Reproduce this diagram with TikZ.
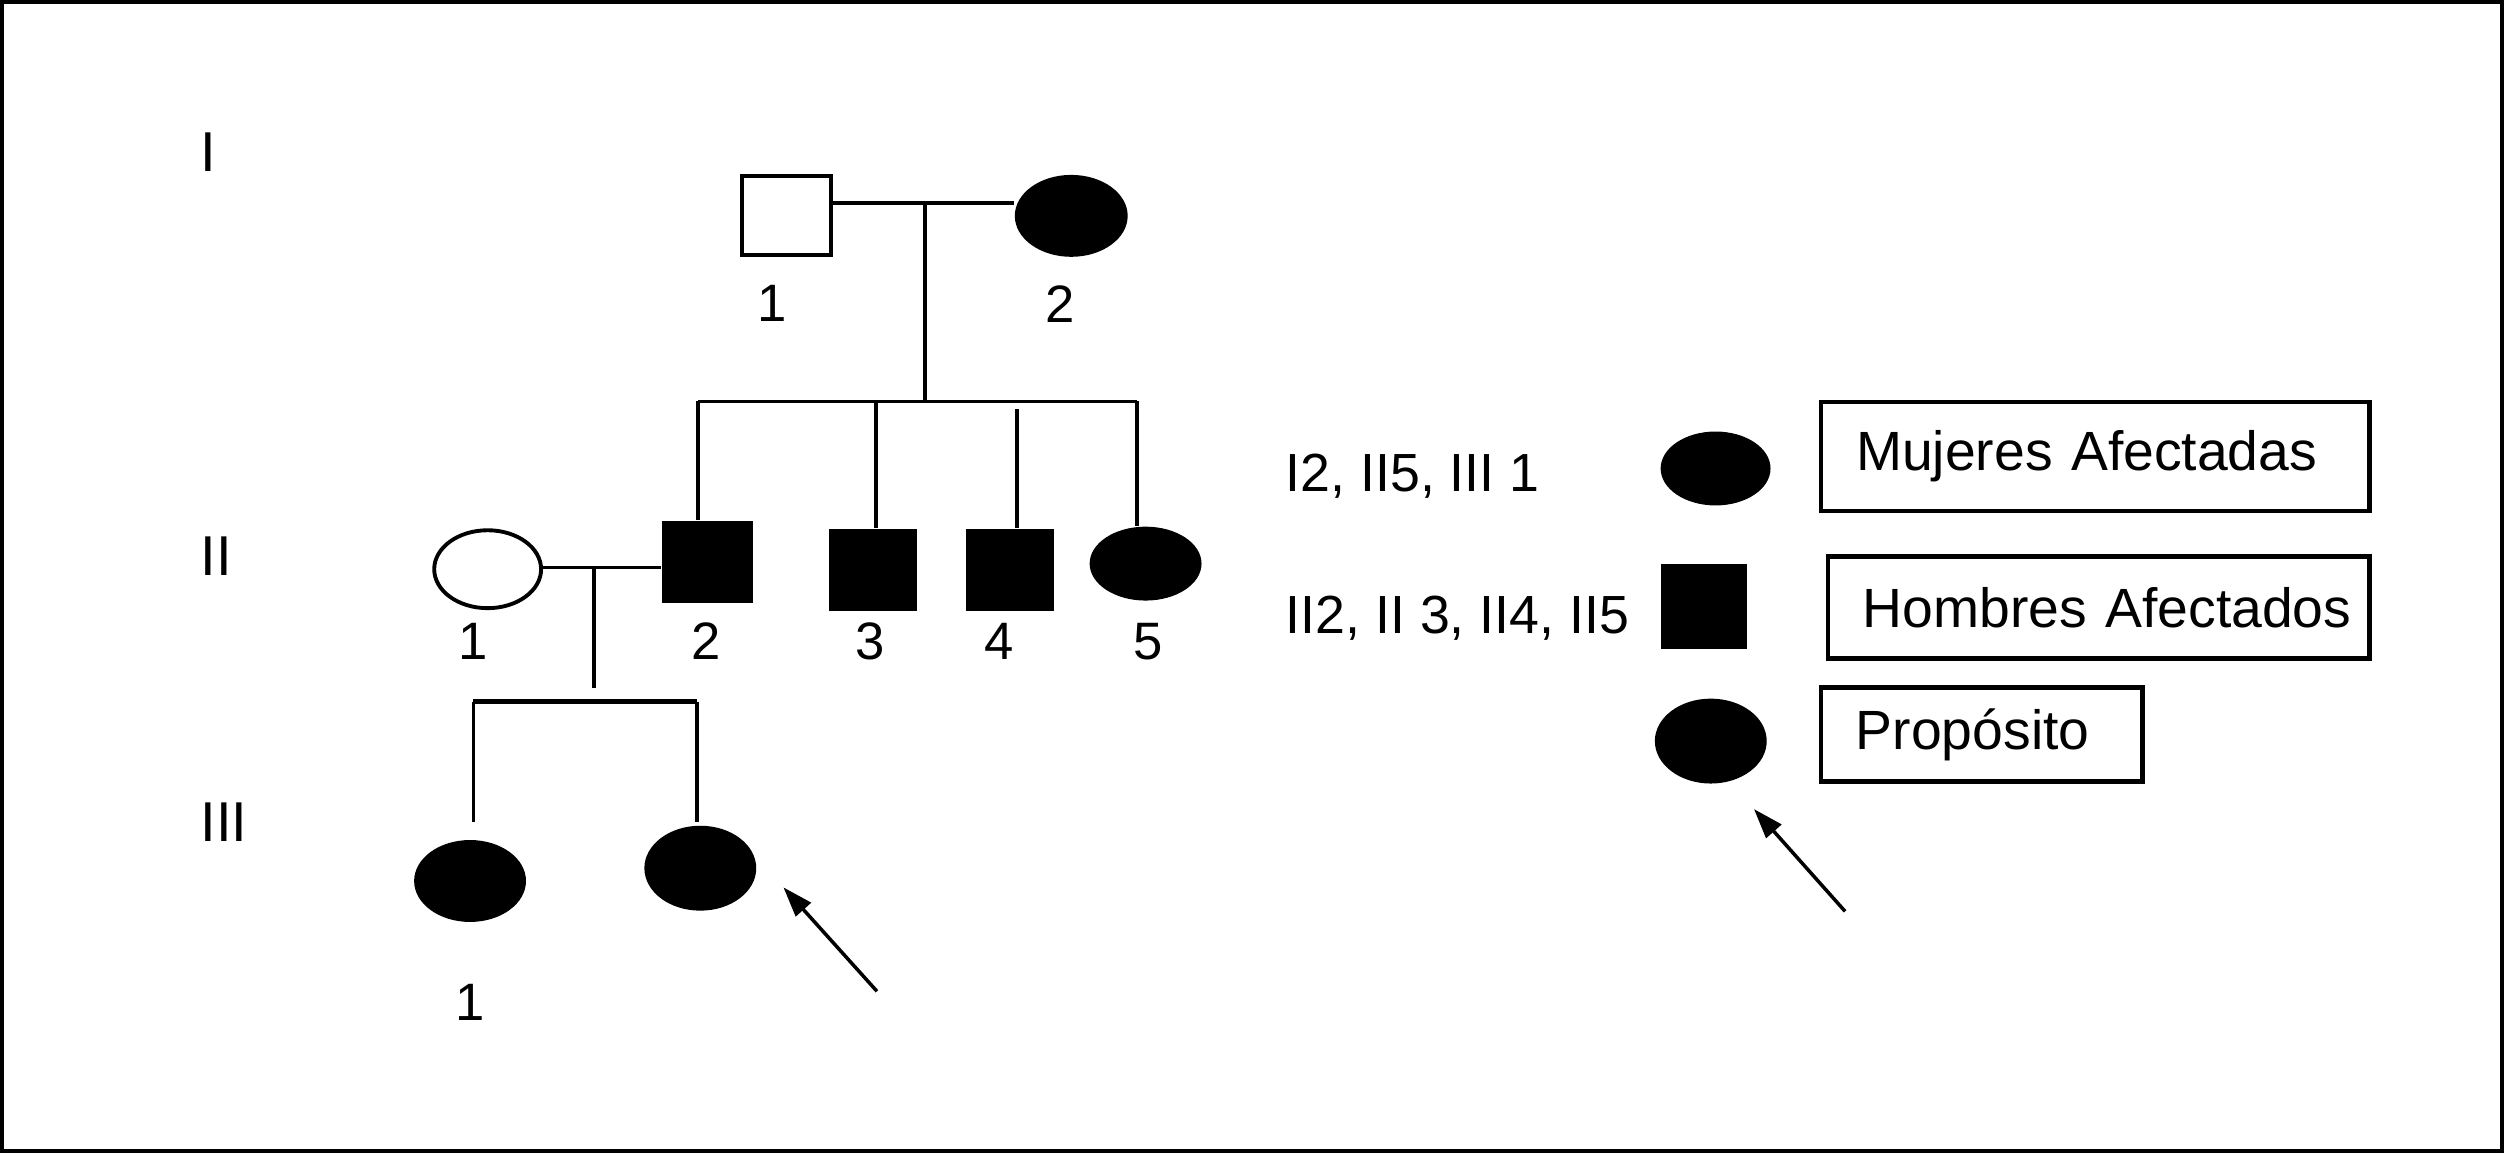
\documentclass[tikz,border=0pt]{standalone}
\usepackage{fontspec}
\setmainfont{Liberation Sans}
\usetikzlibrary{shapes.geometric,arrows.meta}
\tikzset{
  ml/.style={rectangle, draw=black, fill=white, line width=1.1pt, minimum width=0.89cm, minimum height=0.79cm, inner sep=0pt},
  aml/.style={rectangle, fill=black, minimum width=0.88cm, minimum height=0.82cm, inner sep=0pt},
  fm/.style={ellipse, draw=black, fill=white, line width=1.1pt, minimum width=1.07cm, minimum height=0.78cm, inner sep=0pt},
  afm/.style={ellipse, fill=black, minimum width=1.12cm, minimum height=0.82cm, inner sep=0pt},
  ln/.style={draw=black, line width=1pt},
  lbl/.style={font=\fontsize{15}{17}\selectfont, inner sep=0pt},
  gen/.style={font=\fontsize{16}{19}\selectfont, inner sep=0pt, anchor=west},
  keytxt/.style={font=\fontsize{15.3}{18}\selectfont, inner sep=0pt},
  keybox/.style={draw=black, line width=1.3pt, font=\fontsize{15.75}{18}\selectfont, align=left, inner xsep=0.35cm, inner ysep=0pt},
  arr/.style={draw=black, line width=1pt, -{Triangle[length=3mm,width=2mm]}}
}

\begin{document}
\begin{tikzpicture}[x=0.016cm, y=-0.016cm]
  \useasboundingbox (0,0) rectangle (1568,721);
  \draw[line width=1.14pt] (1.25,1.25) rectangle (1564.8,719.8);

  % generations
  \node[gen] (gI) at (125,95) {I};
  \node[gen] (gII) at (125,348) {II};
  \node[gen] (gIII) at (125,514) {III};

  % generation I
  \node[ml] (I1) at (492,135) {};
  \node[afm, minimum width=1.13cm] (I2) at (670,135) {};
  \node[lbl] (nI1) at (483,190) {1};
  \node[lbl] (nI2) at (663,190) {2};
  \coordinate (m1) at (578.5,127);
  \coordinate (s1) at (578.5,251);
  \draw[ln] (I1.east |- m1) -- (m1) -- (I2.west |- m1);
  \draw[ln] (m1) -- (s1);

  % generation II
  \node[fm] (II1) at (305,356) {};
  \node[aml, minimum width=0.91cm] (II2) at (442.5,351.5) {};
  \node[aml] (II3) at (546,356.5) {};
  \node[aml] (II4) at (631.5,356.5) {};
  \node[afm, minimum height=0.74cm] (II5) at (716.5,352.5) {};
  \node[lbl] (nII1) at (296,401) {1};
  \node[lbl] (nII2) at (441.5,401) {2};
  \node[lbl] (nII3) at (544,401) {3};
  \node[lbl] (nII4) at (625,401) {4};
  \node[lbl] (nII5) at (718,401) {5};
  \coordinate (d2) at (436.5,251);
  \coordinate (d3) at (548,251);
  \coordinate (d4) at (636,256);
  \coordinate (d5) at (711,251);
  \draw[ln] (d2) -- (s1) -- (d5);
  \draw[ln] (d2) -- (d2 |- II2.north);
  \draw[ln] (d3) -- (d3 |- II3.north);
  \draw[ln] (d4) -- (d4 |- II4.north);
  \draw[ln] (d5) -- (d5 |- II5.north);
  \coordinate (m2) at (371.6,355);
  \coordinate (e2) at (371.6,430);
  \draw[ln] (II1.east |- m2) -- (II2.west |- m2);
  \draw[ln] (m2) -- (e2);

  % generation III
  \node[afm] (III1) at (294,551) {};
  \node[afm, minimum height=0.85cm] (III2) at (438,543) {};
  \node[lbl] (nIII1) at (294,627) {1};
  \coordinate (t1) at (296,439);
  \coordinate (t2) at (436,439);
  \coordinate (b1) at (296,514);
  \coordinate (b2) at (436,514);
  \draw[ln, line width=1.4pt] (t1) -- (t2);
  \draw[ln] (t1) -- (b1);
  \draw[ln] (t2) -- (b2);
  \coordinate (a1) at (548.5,620);
  \coordinate (a2) at (490,555);
  \draw[arr] (a1) -- (a2);

  % legend
  \node[keytxt] (k1) at (883.5,298) {I2, II5, III 1};
  \node[keytxt] (k2) at (911.5,386.5) {II2, II 3, II4, II5};
  \node[afm, minimum width=1.1cm, minimum height=0.74cm] (kf) at (1073,293) {};
  \node[aml, minimum width=0.86cm, minimum height=0.85cm] (km) at (1066,379.5) {};
  \node[afm, minimum width=1.12cm, minimum height=0.85cm] (kp) at (1070,463.5) {};
  \node[keybox, text width=4.79cm, minimum height=1.09cm] (bf) at (1310.5,285.5) {\mbox{Mujeres Afectadas}};
  \node[keybox, text width=4.72cm, minimum height=1.02cm] (bm) at (1312.5,380) {\mbox{Hombres Afectados}};
  \node[keybox, text width=2.52cm, minimum height=0.94cm] (bp) at (1239.5,459.5) {\mbox{Propósito}};
  \coordinate (a3) at (1154,570);
  \coordinate (a4) at (1097,506);
  \draw[arr] (a3) -- (a4);
\end{tikzpicture}
\end{document}
